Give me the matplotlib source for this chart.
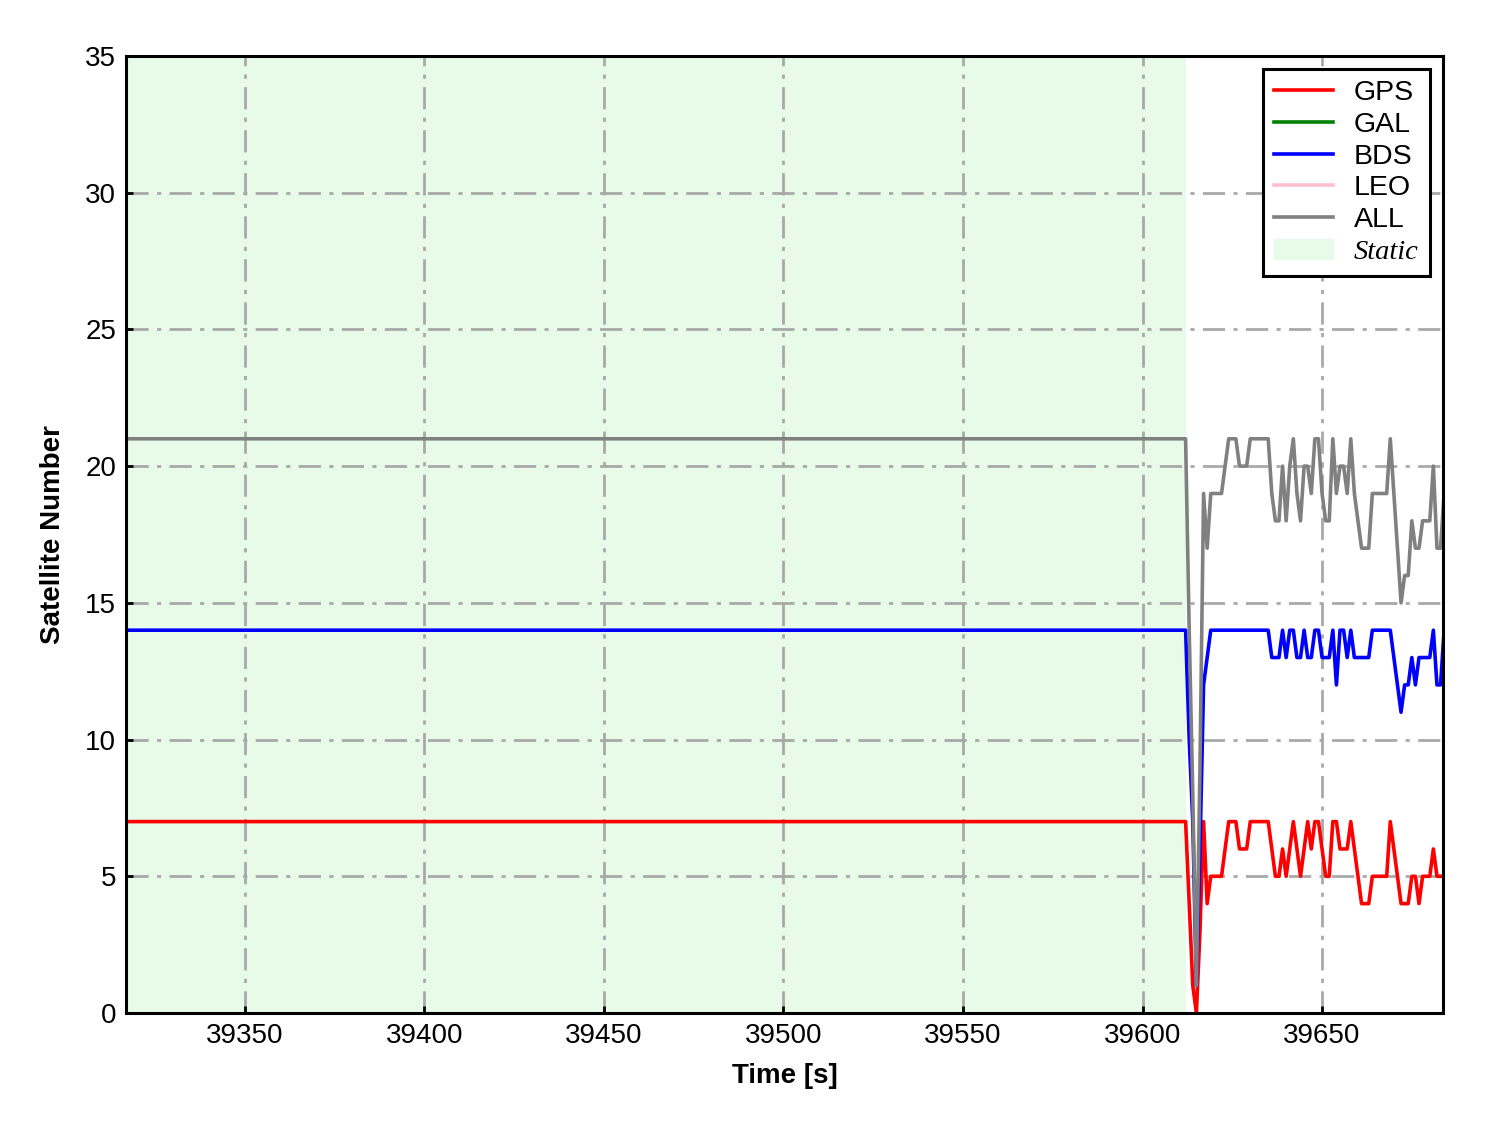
import numpy as np
import matplotlib.pyplot as plt
from matplotlib.patches import Patch

plt.rcParams['font.family'] = ['Liberation Sans', 'DejaVu Sans']

t_start, t_static_end, t_end = 39317, 39612, 39684
time = np.arange(t_start, t_end + 1)

# values while static (constant) and after the static period (1 s epochs from 39612)
gps_static, bds_static, all_static = 7, 14, 21
gps_dyn = [7, 4, 1, 0, 3, 7, 4, 5, 5, 5, 5, 6, 7, 7, 7, 6, 6, 6, 7, 7,
           7, 7, 7, 7, 6, 5, 5, 6, 5, 6, 7, 6, 5, 6, 7, 6, 7, 7, 6, 5,
           5, 7, 7, 6, 6, 6, 7, 6, 5, 4, 4, 4, 5, 5, 5, 5, 5, 7, 6, 5,
           4, 4, 4, 5, 5, 4, 5, 5, 5, 6, 5, 5, 5]
bds_dyn = [14, 10, 7, 1, 6, 12, 13, 14, 14, 14, 14, 14, 14, 14, 14, 14, 14, 14, 14, 14,
           14, 14, 14, 14, 13, 13, 13, 14, 13, 14, 14, 13, 13, 14, 13, 13, 14, 14, 13, 13,
           13, 14, 12, 14, 14, 13, 14, 13, 13, 13, 13, 13, 14, 14, 14, 14, 14, 14, 13, 12,
           11, 12, 12, 13, 12, 13, 13, 13, 13, 14, 12, 12, 14]
all_dyn = [21, 14, 8, 1, 9, 19, 17, 19, 19, 19, 19, 20, 21, 21, 21, 20, 20, 20, 21, 21,
           21, 21, 21, 21, 19, 18, 18, 20, 18, 20, 21, 19, 18, 20, 20, 19, 21, 21, 19, 18,
           18, 21, 19, 20, 20, 19, 21, 19, 18, 17, 17, 17, 19, 19, 19, 19, 19, 21, 19, 17,
           15, 16, 16, 18, 17, 17, 18, 18, 18, 20, 17, 17, 19]
gal = []
leo = []

n_static = t_static_end - t_start
gps = [gps_static] * n_static + gps_dyn
bds = [bds_static] * n_static + bds_dyn
alln = [all_static] * n_static + all_dyn

fig = plt.figure(figsize=(14.88, 11.33), dpi=100)
ax = fig.add_axes([0.0847, 0.1059, 0.8851, 0.8447])

ax.axvspan(39316.9, t_static_end, color='#e8fbe8', lw=0, zorder=0)
ax.plot(time, gps, color='red', lw=2.6, label='GPS')
ax.plot(gal, gal, color='green', lw=2.6, label='GAL')
ax.plot(time, bds, color='blue', lw=2.6, label='BDS')
ax.plot(leo, leo, color='pink', lw=2.6, label='LEO')
ax.plot(time, alln, color='gray', lw=2.6, label='ALL')

ax.set_xlim(39316.9, 39683.7)
ax.set_ylim(0, 35)
ax.set_xticks(np.arange(39350, 39651, 50))
ax.set_yticks(np.arange(0, 36, 5))
ax.grid(True, color='darkgray', lw=2, linestyle=(0, (8, 3, 1.5, 3)))
ax.tick_params(direction='in', length=5, width=2, labelsize=20, pad=7)
for s in ax.spines.values():
    s.set_linewidth(2.2)

ax.set_xlabel('Time [s]', fontsize=20, fontweight='bold', labelpad=10)
ax.set_ylabel('Satellite Number', fontsize=20, fontweight='bold', labelpad=14)

handles, labels = ax.get_legend_handles_labels()
handles.append(Patch(color='#e8fbe8'))
labels.append('Static')
leg = ax.legend(handles, labels, loc='upper right', fontsize=20.5, fancybox=False,
                framealpha=1, edgecolor='black', labelspacing=0.2, handlelength=2.05,
                handletextpad=0.75, borderaxespad=0.45, borderpad=0.4)
leg.get_frame().set_linewidth(2.2)
leg.get_texts()[-1].set_fontfamily(['Liberation Serif'])
leg.get_texts()[-1].set_fontstyle('italic')

fig.savefig('out.png', dpi=100)
